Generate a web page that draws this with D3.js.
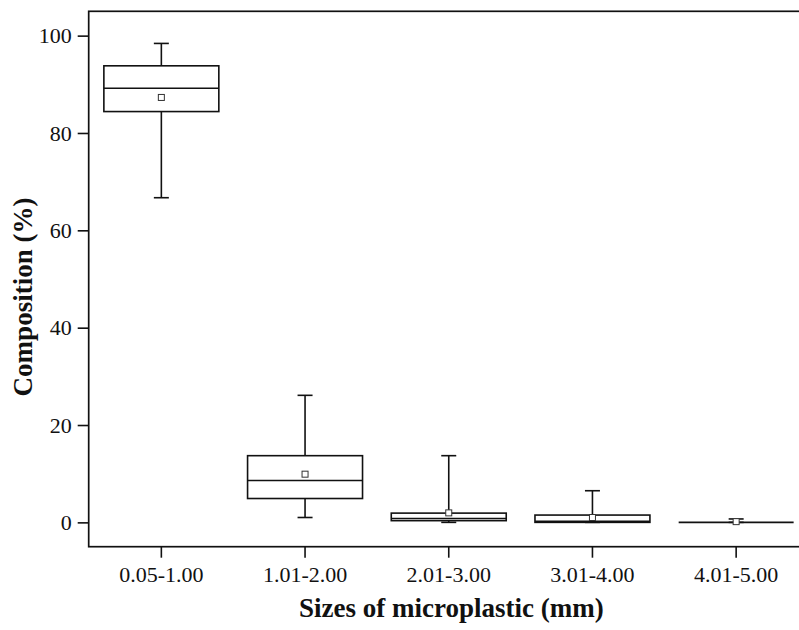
<!DOCTYPE html>
<html>
<head>
<meta charset="utf-8">
<script src="https://cdn.jsdelivr.net/npm/d3@7"></script>
<style>
  html, body { margin: 0; padding: 0; background: #fff; }
  svg { display: block; }
  text { font-family: "Liberation Serif", "Times New Roman", serif; fill: #111; }
</style>
</head>
<body>
<svg id="chart" width="799" height="630"></svg>
<script>
const categories = ["0.05-1.00", "1.01-2.00", "2.01-3.00", "3.01-4.00", "4.01-5.00"];
const whiskerLow  = [66.7, 1.0, 0.0, 0.0, 0.0];
const q1          = [84.4, 4.9, 0.35, 0.0, 0.0];
const median      = [89.2, 8.6, 0.8, 0.2, 0.0];
const q3          = [93.8, 13.7, 1.9, 1.5, 0.0];
const whiskerHigh = [98.4, 26.1, 13.7, 6.5, 0.7];
const meanVals    = [87.3, 9.9, 1.95, 1.0, 0.15];
const yTicks = [0, 20, 40, 60, 80, 100];

(function () {
const svg = d3.select("#chart");
const pL = 88.7, pR = 808, pT = 11.3, pB = 546.7;

const x = d3.scaleBand().domain(categories).range([pL + 0.8, pR]).paddingInner(0.2).paddingOuter(0.1);
const y = d3.scaleLinear().domain([-5, 105]).range([pB, pT]);

const data = categories.map((c, i) => ({
  c, lo: whiskerLow[i], q1: q1[i], med: median[i], q3: q3[i], hi: whiskerHigh[i], mean: meanVals[i]
}));

// frame
svg.append("rect")
  .attr("x", pL).attr("y", pT)
  .attr("width", pR - pL).attr("height", pB - pT)
  .attr("fill", "none").attr("stroke", "#111").attr("stroke-width", 1.7);

// Y axis
const yAxis = d3.axisLeft(y).tickValues(yTicks).tickSize(11).tickPadding(6).tickFormat(d3.format("d"));
const gy = svg.append("g").attr("transform", `translate(${pL},0)`).call(yAxis);
gy.select(".domain").remove();
gy.selectAll(".tick line").attr("stroke", "#111").attr("stroke-width", 1.6);
gy.selectAll(".tick text").attr("font-size", "22px").attr("fill", "#111");

// X axis
const xAxis = d3.axisBottom(x).tickSize(11).tickPadding(9);
const gx = svg.append("g").attr("transform", `translate(0,${pB})`).call(xAxis);
gx.select(".domain").remove();
gx.selectAll(".tick line").attr("stroke", "#111").attr("stroke-width", 1.6);
gx.selectAll(".tick text").attr("font-size", "22px").attr("fill", "#111");

// boxes
const bw = x.bandwidth();
const capW = 15;
const g = svg.append("g").attr("stroke", "#111").attr("stroke-width", 1.6).attr("fill", "none");
data.forEach(d => {
  const cx = x(d.c) + bw / 2;
  g.append("line").attr("x1", cx).attr("x2", cx).attr("y1", y(d.q3)).attr("y2", y(d.hi));
  g.append("line").attr("x1", cx).attr("x2", cx).attr("y1", y(d.q1)).attr("y2", y(d.lo));
  g.append("line").attr("x1", cx - capW / 2).attr("x2", cx + capW / 2).attr("y1", y(d.hi)).attr("y2", y(d.hi));
  g.append("line").attr("x1", cx - capW / 2).attr("x2", cx + capW / 2).attr("y1", y(d.lo)).attr("y2", y(d.lo));
  g.append("rect").attr("x", x(d.c)).attr("width", bw)
    .attr("y", y(d.q3)).attr("height", Math.max(0, y(d.q1) - y(d.q3)))
    .attr("fill", "#fff");
  g.append("line").attr("x1", x(d.c)).attr("x2", x(d.c) + bw).attr("y1", y(d.med)).attr("y2", y(d.med));
  g.append("rect").attr("x", cx - 3).attr("y", y(d.mean) - 3).attr("width", 6).attr("height", 6)
    .attr("fill", "#fff").attr("stroke", "#333").attr("stroke-width", 1);
});

// axis titles
svg.append("text")
  .attr("x", (pL + pR) / 2 + 3).attr("y", 617)
  .attr("text-anchor", "middle").attr("font-size", "27px").attr("font-weight", "bold")
  .text("Sizes of microplastic (mm)");
svg.append("text")
  .attr("transform", "translate(32,297) rotate(-90)")
  .attr("text-anchor", "middle").attr("font-size", "27px").attr("font-weight", "bold")
  .text("Composition (%)");
})();
</script>
</body>
</html>
